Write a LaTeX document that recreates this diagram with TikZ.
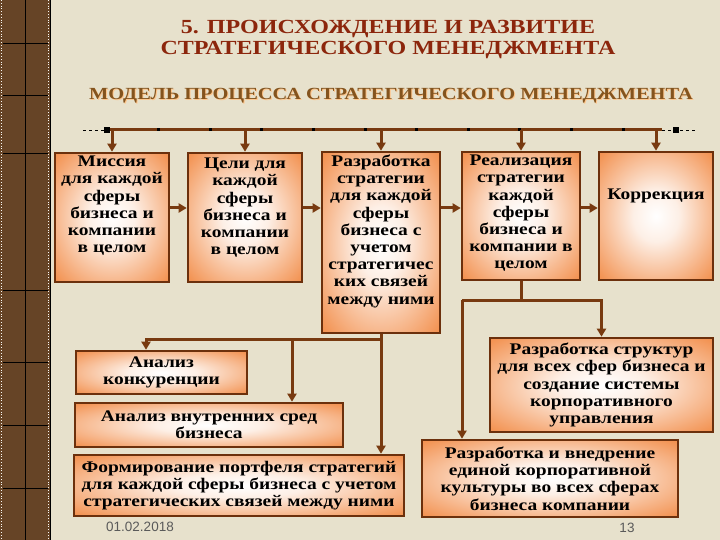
\documentclass[tikz,border=0pt]{standalone}
\usepackage{fontspec}
\setmainfont{Liberation Serif}[FakeStretch=1.2]
\newfontfamily\footfont{Liberation Sans}
\usetikzlibrary{arrows.meta}

\definecolor{paper}{RGB}{231,225,204}
\definecolor{strip}{RGB}{102,68,38}
\definecolor{wire}{RGB}{120,58,16}
\definecolor{frame}{RGB}{108,48,12}
\definecolor{boxorange}{RGB}{240,124,46}
\definecolor{titlered}{RGB}{140,38,12}
\definecolor{subbrown}{RGB}{132,84,30}
\definecolor{footgray}{RGB}{90,90,90}

\pgfdeclareradialshading{glow}{\pgfpoint{0bp}{0bp}}{color(0bp)=(white); color(10bp)=(white!88!boxorange); color(34bp)=(boxorange!82!white); color(50bp)=(boxorange)}

% text hanging from the top of a box
\newcommand\toptext[4]{\parbox[c][#2][t]{#1}{\centering\vspace*{#3}#4}}

\begin{document}
\begin{tikzpicture}[x=1pt,y=-1pt,
  stagebox/.style={draw=frame, line width=2.6pt, shading=glow, inner sep=0pt,
    font=\bfseries\fontsize{16.2}{17.2}\selectfont},
  flatbox/.style={stagebox, align=center},
  bar/.style={draw=wire, line width=3pt},
  flow/.style={bar, -{Triangle[length=8pt,width=9pt]}}]

    \useasboundingbox (0,0) rectangle (720,540);
    \fill[paper] (0,0) rectangle (720,540);

    % left strip
    \fill[strip] (0,0) rectangle (50,540);
    \draw[black, thin] (25,0) -- (25,540);
    \foreach \y in {43, 95, 153, 290, 362, 425, 488}
        \draw[black, thin] (3,\y) -- (48,\y);
    \draw[black, line width=1pt] (50,0) -- (50,540);
    \draw[white!80!paper, line width=0.8pt, dotted] (1.5,0) -- (1.5,540);
    \draw[white!80!paper, line width=0.8pt, dotted] (48,0) -- (48,540);

    % headings
    \node[text=titlered, align=center, font=\bfseries\fontsize{20}{21}\selectfont] (title) at (388,40)
        {5. ПРОИСХОЖДЕНИЕ И РАЗВИТИЕ\\СТРАТЕГИЧЕСКОГО МЕНЕДЖМЕНТА};
    \node[text=white!55!orange, font=\bfseries\fontsize{17}{17}\selectfont] (subshadow) at (392,97)
        {МОДЕЛЬ ПРОЦЕССА СТРАТЕГИЧЕСКОГО МЕНЕДЖМЕНТА};
    \node[text=subbrown, font=\bfseries\fontsize{17}{17}\selectfont] (subtitle) at (391,96)
        {МОДЕЛЬ ПРОЦЕССА СТРАТЕГИЧЕСКОГО МЕНЕДЖМЕНТА};

    % top row
    \node[stagebox] (mission) at (112,217.5)
        {\toptext{114pt}{129pt}{3pt}{Миссия\\для каждой\\сферы\\бизнеса и\\компании\\в целом}};
    \node[stagebox] (goals) at (245,217.5)
        {\toptext{114pt}{129pt}{5pt}{Цели для\\каждой\\сферы\\бизнеса и\\компании\\в целом}};
    \node[stagebox] (strategy) at (381,242.5)
        {\toptext{118pt}{181pt}{3pt}{Разработка\\стратегии\\для каждой\\сферы\\бизнеса с\\учетом\\стратегичес\\ких связей\\между ними}};
    \node[stagebox] (implement) at (521,216)
        {\toptext{118pt}{128pt}{3pt}{Реализация\\стратегии\\каждой\\сферы\\бизнеса и\\компании в\\целом}};
    \node[stagebox] (correction) at (656,216)
        {\toptext{114pt}{128pt}{37pt}{Коррекция}};

    % lower boxes
    \node[flatbox, minimum width=171pt, minimum height=43pt] (competition) at (161.5,372.5) {Анализ\\конкуренции};
    \node[flatbox, minimum width=268pt, minimum height=44pt] (internal) at (209,425) {Анализ внутренних сред\\бизнеса};
    \node[flatbox, minimum width=330pt, minimum height=61pt] (portfolio) at (239,485.5)
        {Формирование портфеля стратегий\\для каждой сферы бизнеса с учетом\\стратегических связей между ними};
    \node[flatbox, minimum width=223pt, minimum height=94pt] (structures) at (601.5,385)
        {Разработка структур\\для всех сфер бизнеса и\\создание системы\\корпоративного\\управления};
    \node[flatbox, minimum width=256pt, minimum height=77pt] (culture) at (550,478.5)
        {Разработка и внедрение\\единой корпоративной\\культуры во всех сферах\\бизнеса компании};

    % bus on top
    \coordinate (busL) at (107,130);
    \coordinate (busR) at (662,130);
    \draw[black, thin, dashed] (83,130) -- (busL);
    \draw[black, thin, dashed] (busR) -- (697,130);
    \draw[bar] (busL) -- (busR);
    \foreach \i in {1,...,10}
        \fill[black] ({107+\i*51.6-1.5},128.5) rectangle +(3,3);
    \fill[black] (104,127) rectangle +(6,6);
    \fill[black] (673,127) rectangle +(6,6);
    \foreach \b in {mission, goals, strategy, implement, correction}
        \draw[flow] (\b.north |- busL) -- (\b.north);

    % arrows along the row
    \coordinate (rowy) at (0,208);
    \draw[flow] (mission.east |- rowy) -- (goals.west |- rowy);
    \draw[flow] (goals.east |- rowy) -- (strategy.west |- rowy);
    \draw[flow] (strategy.east |- rowy) -- (implement.west |- rowy);
    \draw[flow] (implement.east |- rowy) -- (correction.west |- rowy);

    % left tree
    \coordinate (lowbar) at (0,339);
    \coordinate (compin) at ([xshift=-15.5pt]competition.north);
    \coordinate (intin) at ([xshift=83pt]internal.north);
    \draw[flow] (strategy.south) -- (strategy.south |- portfolio.north);
    \draw[flow] (strategy.south |- lowbar) -- (compin |- lowbar) -- (compin);
    \draw[flow] (intin |- lowbar) -- (intin);

    % right tree
    \coordinate (highbar) at (0,300);
    \coordinate (cultin) at ([xshift=-88pt]culture.north);
    \draw[bar] (implement.south) -- (implement.south |- highbar);
    \draw[flow] (cultin |- highbar) -- (structures.north |- highbar) -- (structures.north);
    \draw[flow] (cultin |- highbar) -- (cultin);

    % footer
    \node[text=footgray, font=\footfont\fontsize{13.5}{13.5}\selectfont] (date) at (140,527) {01.02.2018};
    \node[text=footgray, font=\footfont\fontsize{13.5}{13.5}\selectfont] (page) at (627,528) {13};
\end{tikzpicture}
\end{document}
